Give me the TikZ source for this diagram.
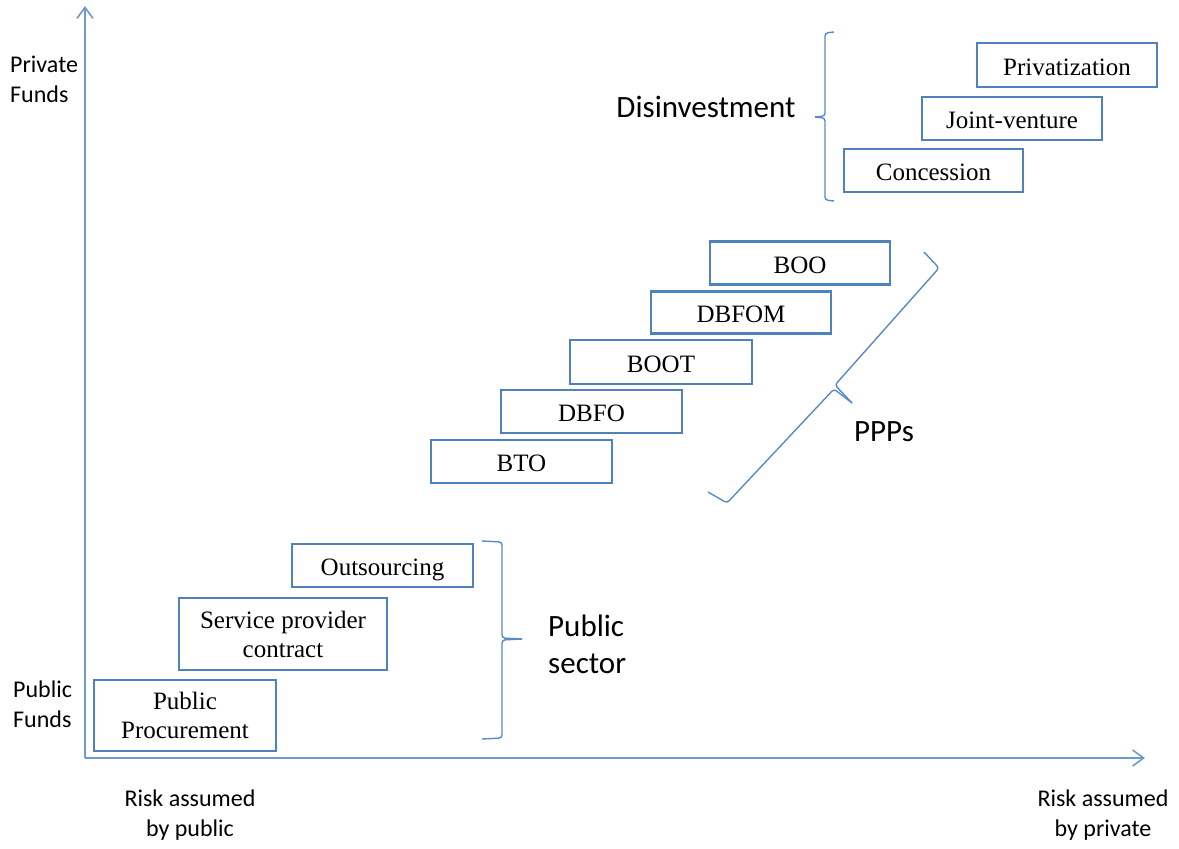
\documentclass[tikz,border=0pt]{standalone}
\usepackage{fontspec}
\setmainfont{Liberation Serif}
\newfontfamily\calib{Carlito}
\usetikzlibrary{arrows.meta}
\definecolor{boxblue}{HTML}{4F81BD}
\definecolor{axisblue}{HTML}{6E9AD0}
\definecolor{braceblue}{HTML}{5A8AC6}
\tikzset{
  stage/.style={draw=boxblue, line width=2.8pt, inner sep=0pt, align=center,
    font=\fontsize{25}{29}\selectfont},
  oneline/.style={text height=20pt, text depth=0pt},
  axis/.style={draw=axisblue, line width=1.6pt,
    -{Straight Barb[length=11pt,width=16pt,line width=1.6pt]}},
  brace/.style={draw=braceblue, line width=1.4pt, rounded corners=3pt},
  biglabel/.style={inner sep=0pt, font=\calib\fontsize{31}{37}\selectfont},
  axlabel/.style={inner sep=0pt, font=\calib\fontsize{24}{30}\selectfont}
}
\begin{document}
\begin{tikzpicture}[x=1pt, y=-1pt]
\useasboundingbox (0,0) rectangle (1179,849);

% axes
\coordinate (origin) at (85,758);
\coordinate (ytip) at (85,6);
\coordinate (xtip) at (1145,758);
\draw[axis] (origin) -- (ytip);
\draw[axis] (origin) -- (xtip);

% axis labels
\node[axlabel, anchor=west, align=left] (privfunds) at (10,79) {Private\\Funds};
\node[axlabel, anchor=west, align=left] (pubfunds) at (13,704) {Public\\Funds};
\node[axlabel, align=center] (riskpub) at (190,815) {Risk assumed\\by public};
\node[axlabel, align=center] (riskpriv) at (1103,815) {Risk assumed\\by private};

% public sector stages
\node[stage, minimum width=182pt, minimum height=71pt] (proc) at (185,715.5) {Public\\Procurement};
\node[stage, minimum width=208pt, minimum height=72pt] (service) at (283,634) {Service provider\\contract};
\node[stage, oneline, minimum width=181pt, minimum height=43pt] (outs) at (382.5,565.5) {Outsourcing};

% PPP stages
\node[stage, oneline, minimum width=181pt, minimum height=43pt] (bto) at (521.5,461.5) {BTO};
\node[stage, oneline, minimum width=181pt, minimum height=43pt] (dbfo) at (591.5,411.5) {DBFO};
\node[stage, oneline, minimum width=182pt, minimum height=44pt] (boot) at (661,362) {BOOT};
\node[stage, oneline, minimum width=180pt, minimum height=42pt] (dbfom) at (741,312.5) {DBFOM};
\node[stage, oneline, minimum width=180pt, minimum height=43pt] (boo) at (800,263) {BOO};

% disinvestment stages
\node[stage, oneline, minimum width=179pt, minimum height=43pt] (conc) at (933.5,170.5) {Concession};
\node[stage, oneline, minimum width=180pt, minimum height=43pt] (jv) at (1012,118.5) {Joint-venture};
\node[stage, oneline, minimum width=180pt, minimum height=44pt] (priv) at (1067,65) {Privatization};

% public sector brace
\draw[brace] (482,541) -- (502,542) -- (502,638) -- (522,639);
\draw[brace] (522,639) -- (502,640) -- (502,738) -- (482,739);
\node[biglabel, anchor=west, align=left] (publab) at (548,644) {Public\\sector};

% PPP brace (diagonal)
\draw[brace] (924,252) -- (939,268) -- (835,385) -- (852,403);
\draw[brace] (852,403) -- (834,389) -- (727,503) -- (708,492);
\node[biglabel] (ppplab) at (884,432) {PPPs};

% disinvestment brace
\draw[brace] (834,32) -- (825,33) -- (825,116) -- (815,117);
\draw[brace] (815,117) -- (825,118) -- (825,200) -- (834,201);
\node[biglabel] (disinv) at (706,107) {Disinvestment};
\end{tikzpicture}
\end{document}
